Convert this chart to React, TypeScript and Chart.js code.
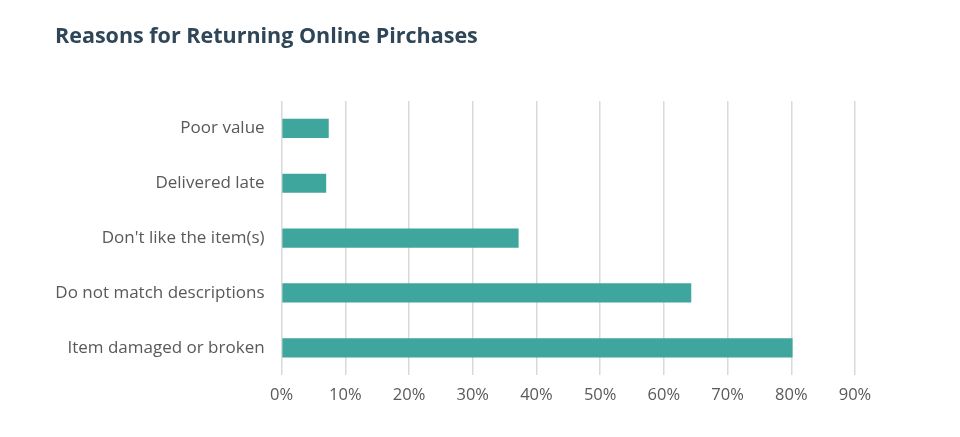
import React, { useEffect, useRef } from "react";
import { Chart, registerables } from "chart.js";

Chart.register(...registerables);

const titleText = "Reasons for Returning Online Pirchases";
const categories = [
  "Poor value",
  "Delivered late",
  "Don't like the item(s)",
  "Do not match descriptions",
  "Item damaged or broken",
];
const values = [7.4, 7.0, 37.2, 64.3, 80.2];
const xTickMax = 90;
const xTickStep = 10;

const titlePlugin = {
  id: "customTitle",
  afterDraw(chart: any) {
    const ctx = chart.ctx;
    ctx.save();
    ctx.font = "bold 21.5px 'Open Sans'";
    ctx.fillStyle = "#2e4657";
    ctx.textAlign = "left";
    ctx.textBaseline = "middle";
    ctx.fillText(titleText, 55, 37);
    ctx.restore();
  },
};

export default function App() {
  const ref = useRef<HTMLCanvasElement | null>(null);
  useEffect(() => {
    if (!ref.current) return;
    const chart = new Chart(ref.current, {
      type: "bar",
      data: {
        labels: categories,
        datasets: [
          {
            data: values,
            backgroundColor: "#3fa69e",
            borderWidth: 0,
            barPercentage: 0.7,
            categoryPercentage: 0.5,
          },
        ],
      },
      options: {
        indexAxis: "y",
        responsive: false,
        animation: false,
        layout: { padding: { top: 101, right: 105, bottom: 22, left: 0 } },
        plugins: { legend: { display: false }, tooltip: { enabled: false }, title: { display: false } },
        scales: {
          x: {
            min: 0,
            max: xTickMax,
            ticks: {
              stepSize: xTickStep,
              callback: (v: any) => v + "%",
              color: "#595959",
              font: { family: "'Open Sans'", size: 16.5 },
              padding: 10,
            },
            grid: { color: "#d9d9d9", lineWidth: 1.5, drawTicks: false },
            border: { display: false },
          },
          y: {
            ticks: {
              color: "#595959",
              font: { family: "'Open Sans'", size: 17 },
              padding: 9,
            },
            grid: { display: false },
            border: { display: false },
            afterFit: (scale: any) => {
              scale.width = 281.6;
            },
          },
        },
      },
      plugins: [titlePlugin],
    });
    return () => chart.destroy();
  }, []);
  return (
    <div style={{ position: "fixed", left: 0, top: 0, width: 960, height: 437, background: "#fff" }}>
      <canvas ref={ref} width={960} height={437} />
    </div>
  );
}
